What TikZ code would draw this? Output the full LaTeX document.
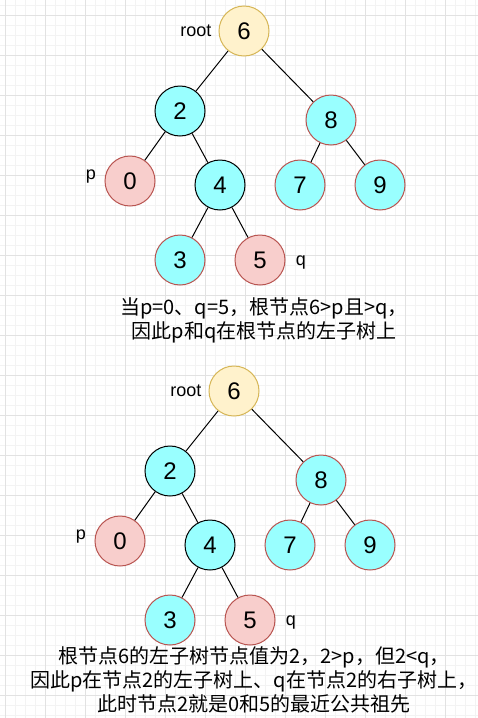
\documentclass[tikz,border=0pt]{standalone}
\usepackage{fontspec}
\setmainfont{Liberation Sans}
\newfontfamily\cjk{Noto Sans CJK SC}
\usetikzlibrary{positioning}
\definecolor{aquafill}{HTML}{99FFFF}
\definecolor{pinkfill}{HTML}{F8CECC}
\definecolor{pinkline}{HTML}{B85450}
\definecolor{rootfill}{HTML}{FFF2CC}
\definecolor{rootline}{HTML}{D6B656}
\definecolor{gridminor}{HTML}{F3F3F3}
\definecolor{gridmajor}{HTML}{E2E2E2}
\begin{document}
\begin{tikzpicture}[x=1pt,y=-1pt,
	tnode/.style={circle,minimum size=50pt,inner sep=0pt,line width=1pt,font=\fontsize{24}{24}\selectfont,draw=pinkline,fill=aquafill},
	pathnode/.style={tnode,draw=black},
	hitnode/.style={tnode,fill=pinkfill},
	topnode/.style={tnode,draw=rootline,fill=rootfill},
	lbl/.style={font=\fontsize{18}{18}\selectfont,inner sep=0pt},
	note/.style={font=\cjk\fontsize{20}{24}\selectfont,align=center,inner sep=0pt},
	edge/.style={line width=1pt}]
	\useasboundingbox (0,0) rectangle (478,718);
	\fill[white] (0,0) rectangle (478,718);
	% background grid
	\foreach \g in {5,15,...,475} \draw[gridminor,line width=1pt] (\g,0) -- (\g,718);
	\foreach \g in {5,15,...,715} \draw[gridminor,line width=1pt] (0,\g) -- (478,\g);
	\foreach \g in {5,45,...,475} \draw[gridmajor,line width=1pt] (\g,0) -- (\g,718);
	\foreach \g in {15,55,...,715} \draw[gridmajor,line width=1pt] (0,\g) -- (478,\g);
	% first tree
	\node[topnode] (a6) at (244,31) {6};
	\node[pathnode] (a2) at (180,111) {2};
	\node[tnode] (a8) at (331,120) {8};
	\node[hitnode] (a0) at (130,181) {0};
	\node[pathnode] (a4) at (220,185) {4};
	\node[tnode] (a7) at (300,185) {7};
	\node[tnode] (a9) at (380,185) {9};
	\node[tnode] (a3) at (180,260) {3};
	\node[hitnode] (a5) at (260,260) {5};
	\foreach \u/\v in {a6/a2,a6/a8,a2/a0,a2/a4,a4/a3,a4/a5,a8/a7,a8/a9}
		\draw[edge] (\u) -- (\v);
	\node[lbl,left=7pt of a6] (aroot) {root};
	\node[lbl] (ap) at (91,177) {p};
	\node[lbl] (aq) at (301,263) {q};
	\node[note] (atext) at (264,320) {当p=0、q=5，根节点6>p且>q，\\因此p和q在根节点的左子树上};
	% second tree
	\node[topnode] (b6) at (234,391) {6};
	\node[pathnode] (b2) at (170,471) {2};
	\node[tnode] (b8) at (321,480) {8};
	\node[hitnode] (b0) at (120,541) {0};
	\node[pathnode] (b4) at (210,545) {4};
	\node[tnode] (b7) at (290,545) {7};
	\node[tnode] (b9) at (370,545) {9};
	\node[tnode] (b3) at (170,620) {3};
	\node[hitnode] (b5) at (250,620) {5};
	\foreach \u/\v in {b6/b2,b6/b8,b2/b0,b2/b4,b4/b3,b4/b5,b8/b7,b8/b9}
		\draw[edge] (\u) -- (\v);
	\node[lbl,left=7pt of b6] (broot) {root};
	\node[lbl] (bp) at (81,537) {p};
	\node[lbl] (bq) at (291,623) {q};
	\node[note] (btext) at (254,680) {根节点6的左子树节点值为2，2>p，但2<q，\\因此p在节点2的左子树上、q在节点2的右子树上，\\此时节点2就是0和5的最近公共祖先};
\end{tikzpicture}
\end{document}
